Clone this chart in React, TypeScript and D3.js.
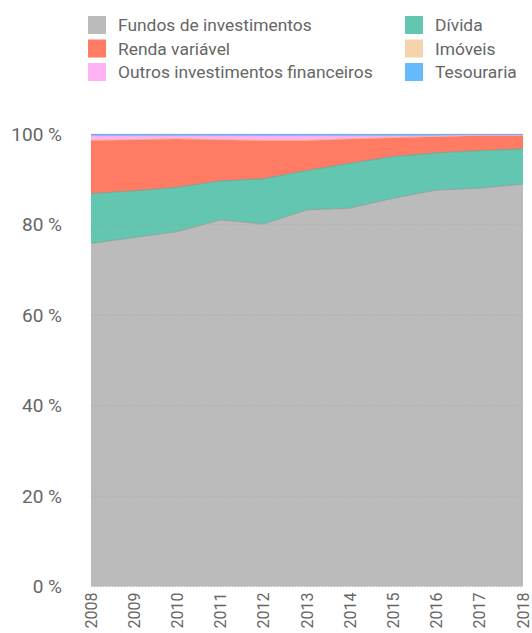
import React from "react";
import * as d3 from "d3";

const years = [2008, 2009, 2010, 2011, 2012, 2013, 2014, 2015, 2016, 2017, 2018];
const fundos = [75.9, 77.2, 78.5, 81.1, 80.2, 83.3, 83.7, 85.9, 87.7, 88.1, 89.0];
const divida = [11.0, 10.3, 9.8, 8.6, 10.0, 8.7, 9.9, 9.2, 8.2, 8.3, 7.8];
const renda = [11.75, 11.3, 10.7, 9.1, 8.45, 6.65, 5.4, 4.15, 3.6, 3.35, 2.95];
const imoveis = [0.05, 0.05, 0.05, 0.05, 0.05, 0.05, 0.05, 0.05, 0.05, 0.05, 0.05];
const outros = [0.95, 0.8, 0.6, 0.8, 0.95, 0.95, 0.6, 0.35, 0.1, 0.0, 0.0];
const tesouraria = [0.35, 0.35, 0.35, 0.35, 0.35, 0.35, 0.35, 0.35, 0.35, 0.2, 0.2];
const yTicks = [0, 20, 40, 60, 80, 100];

const seriesNames = ["Fundos de investimentos", "Dívida", "Renda variável", "Imóveis", "Outros investimentos financeiros", "Tesouraria"];
const seriesValues = [fundos, divida, renda, imoveis, outros, tesouraria];
const colors = ["#bbbbbb", "#62c6b0", "#ff7b63", "#f5d3ad", "#ffb3f5", "#66bbff"];
const strokes = ["#8f9a96", "#5aa896", "#ff6b50", "#e8c39a", "#f9a0ef", "#4aa9f5"];

const legendOrder = [
  { i: 0, col: 0, row: 0 },
  { i: 2, col: 0, row: 1 },
  { i: 4, col: 0, row: 2 },
  { i: 1, col: 1, row: 0 },
  { i: 3, col: 1, row: 1 },
  { i: 5, col: 1, row: 2 },
];

export default function App() {
  const W = 532, H = 633;
  const left = 91, right = 523, top = 134.4, bottom = 586.6;
  const x = d3.scaleLinear().domain([years[0], years[years.length - 1]]).range([left, right]);
  const y = d3.scaleLinear().domain([0, 100]).range([bottom, top]);

  const rows = years.map((yr, k) => {
    const o: any = { year: yr };
    seriesNames.forEach((n, s) => (o[n] = seriesValues[s][k]));
    return o;
  });
  const stack = d3.stack<any>().keys(seriesNames).offset(d3.stackOffsetExpand);
  const layers = stack(rows);
  const area = d3.area<any>().x((d) => x(d.data.year)).y0((d) => y(d[0] * 100)).y1((d) => y(d[1] * 100));
  const line = d3.line<any>().x((d) => x(d.data.year)).y((d) => y(d[1] * 100));

  const font = "Roboto, 'Open Sans', sans-serif";
  const textColor = "#666666";

  return (
    <svg width={W} height={H} style={{ position: "absolute", left: 0, top: 0 }}>
      <rect width={W} height={H} fill="#ffffff" />
      {legendOrder.map(({ i, col, row }) => {
        const lx = col === 0 ? 88 : 405;
        const cy = 25 + row * 23.5;
        return (
          <g key={i}>
            <rect x={lx} y={cy - 9} width={18} height={18} fill={colors[i]} />
            <text x={lx + 30} y={cy} dy="0.35em" fontFamily={font} fontSize={17.4} fill={textColor}>
              {seriesNames[i]}
            </text>
          </g>
        );
      })}
      {layers.map((layer, s) => (
        <path key={"a" + s} d={area(layer) || ""} fill={colors[s]} />
      ))}
      {layers.map((layer, s) => (
        <path key={"l" + s} d={line(layer) || ""} fill="none" stroke={strokes[s]} strokeWidth={1} opacity={0.8} />
      ))}
      {yTicks.map((t) => (
        <g key={t}>
          <line x1={left} x2={right} y1={y(t)} y2={y(t)} stroke="#999" strokeOpacity={0.6} strokeDasharray="1,2" />
          <text x={62} y={y(t)} dy="0.35em" textAnchor="end" fontFamily={font} fontSize={19} fill={textColor}>
            {t} %
          </text>
        </g>
      ))}
      {years.map((yr) => (
        <text
          key={yr}
          transform={`translate(${x(yr)},${bottom + 6}) rotate(-90)`}
          textAnchor="end"
          dy="0.35em"
          fontFamily={font}
          fontSize={16}
          fill={textColor}
        >
          {yr}
        </text>
      ))}
    </svg>
  );
}
